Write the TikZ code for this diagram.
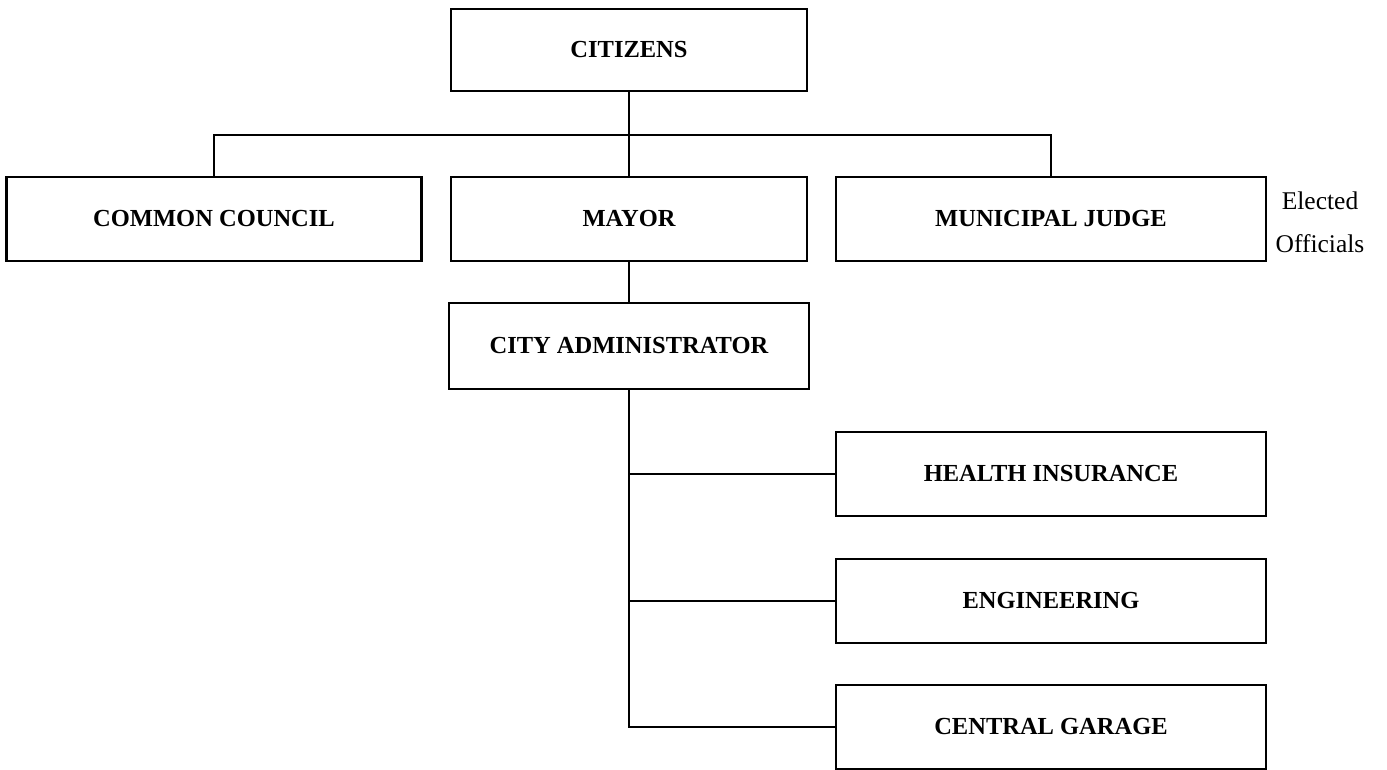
\documentclass[tikz,border=0pt]{standalone}
\usepackage{fontspec}
\setmainfont{Liberation Serif}
\begin{document}
\begin{tikzpicture}[x=1pt,y=-1pt,
  orgbox/.style={draw, line width=2.3pt, minimum height=84pt, inner sep=0pt,
    font=\fontsize{24.5}{28}\selectfont\bfseries},
  link/.style={line width=2.3pt}]
\useasboundingbox[fill=white] (0,0) rectangle (1387,770);

% elected level
\node[orgbox, minimum width=356pt, minimum height=82pt] (cit) at (629,50) {CITIZENS};
\node[orgbox, minimum width=415pt] (cc) at (214,219) {COMMON COUNCIL};
\node[orgbox, minimum width=356pt] (mayor) at (629,219) {MAYOR};
\node[orgbox, minimum width=430pt] (judge) at (1051,219) {MUNICIPAL JUDGE};
\node[align=center, font=\fontsize{25.5}{43}\selectfont] (elected) at (1320,222) {Elected\\Officials};

% administration
\node[orgbox, minimum width=360pt, minimum height=86pt] (admin) at (629,346) {CITY ADMINISTRATOR};
\node[orgbox, minimum width=430pt] (health) at (1051,474) {HEALTH INSURANCE};
\node[orgbox, minimum width=430pt] (eng) at (1051,601) {ENGINEERING};
\node[orgbox, minimum width=430pt] (garage) at (1051,727) {CENTRAL GARAGE};

% connectors
\coordinate (bus) at (0,135);
\draw[link] (cit.south) -- (mayor.north);
\draw[link] (cc.north) -- (cc.north |- bus) -- (judge.north |- bus) -- (judge.north);
\draw[link] (mayor.south) -- (admin.north);
\draw[link] (admin.south) -- (admin.south |- garage.west) -- (garage.west);
\draw[link] (admin.south |- health.west) -- (health.west);
\draw[link] (admin.south |- eng.west) -- (eng.west);
\end{tikzpicture}
\end{document}
